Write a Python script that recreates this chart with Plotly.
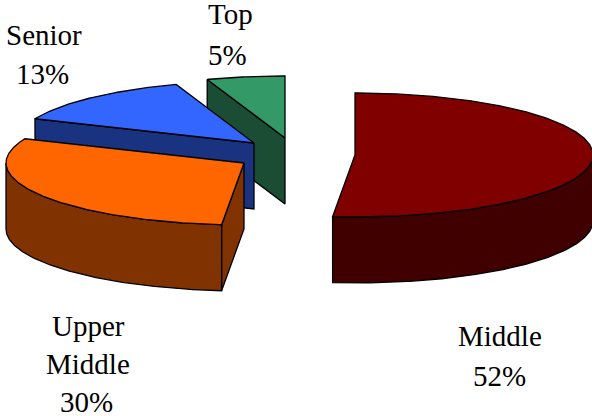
import numpy as np
import plotly.graph_objects as go

categories = ["Middle", "Upper Middle", "Senior", "Top"]
values = [51.5, 29.9, 13.3, 5.3]
tick_labels = ["52%", "30%", "13%", "5%"]

top_colors = ["#800000", "#FF6600", "#3366FF", "#339966"]
side_colors = ["#400000", "#803300", "#1A3380", "#1A4D33"]
apex = [(355, 155), (244, 163), (254, 143), (285, 138)]
RX, RY, DEPTH = 238, 62, 66
W, H = 592, 416

label_lines = [
    [("Middle", 500, 336), ("52%", 499, 376)],
    [("Upper", 88, 326), ("Middle", 88, 364), ("30%", 86, 402)],
    [("Senior", 44, 35), ("13%", 42, 74)],
    [("Top", 230, 14), ("5%", 227, 55)],
]

fig = go.Figure()


def rim(c, a, b, dz=0):
    t = np.radians(np.linspace(a, b, max(int(abs(b - a)) * 2, 2)))
    return c[0] + RX * np.sin(t), c[1] - RY * np.cos(t) + dz


def face(x, y, color):
    fig.add_trace(go.Scatter(
        x=list(x) + [x[0]], y=list(y) + [y[0]], mode="lines", fill="toself",
        fillcolor=color, line=dict(color="black", width=1.3),
        hoverinfo="skip", showlegend=False))


edges = np.concatenate([[0], np.cumsum(values) * 3.6])
for i in reversed(range(len(values))):
    a, b = edges[i], edges[i + 1]
    c = apex[i]
    if a > 180:
        px, py = rim(c, a, a)
        px, py = px[0], py[0]
        face([c[0], px, px, c[0]], [c[1], py, py + DEPTH, c[1] + DEPTH], side_colors[i])
    lo, hi = max(a, 90), min(b, 270)
    if lo < hi:
        xt, yt = rim(c, lo, hi)
        xb, yb = rim(c, hi, lo, DEPTH)
        face(np.r_[xt, xb], np.r_[yt, yb], side_colors[i])
    xr, yr = rim(c, a, b)
    face(np.r_[c[0], xr], np.r_[c[1], yr], top_colors[i])

annotations = []
for lines in label_lines:
    for text, x, y in lines:
        annotations.append(dict(x=x, y=y, text=text, showarrow=False, xanchor="center",
                                yanchor="middle", font=dict(family="Liberation Serif", size=29, color="black")))

fig.update_layout(
    width=W, height=H, margin=dict(l=0, r=0, t=0, b=0),
    paper_bgcolor="white", plot_bgcolor="white", annotations=annotations,
    xaxis=dict(range=[0, W], visible=False, fixedrange=True),
    yaxis=dict(range=[H, 0], visible=False, fixedrange=True),
)
fig.write_html("out.html", config={"displayModeBar": False},
               post_script="document.body.style.margin='0';document.body.style.overflow='hidden';")
